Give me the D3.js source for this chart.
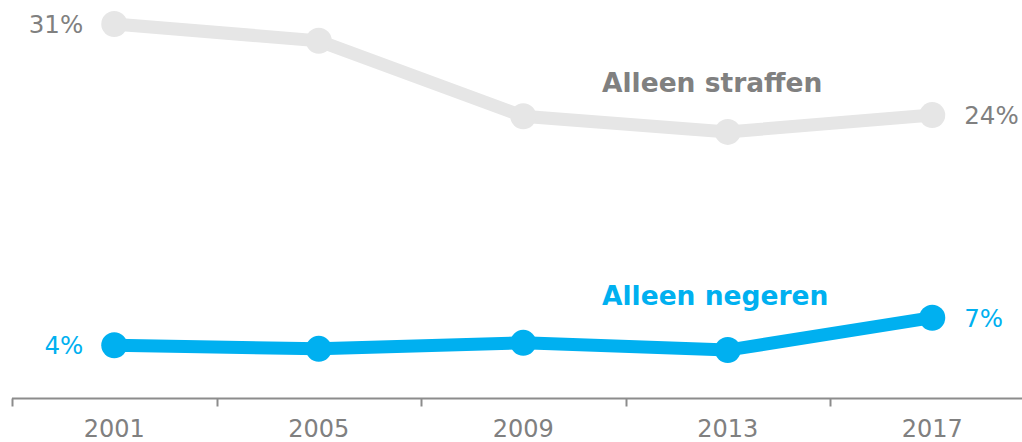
<!DOCTYPE html>
<html>
<head>
<meta charset="utf-8">
<script src="https://cdn.jsdelivr.net/npm/d3@7"></script>
<style>
  body { margin: 0; background: #fff; }
  svg { display: block; font-family: Verdana, "DejaVu Sans", sans-serif; }
</style>
</head>
<body>
<svg id="chart" width="1022" height="442"></svg>
<script>
// Jaren op de x-as.
const years = ['2001', '2005', '2009', '2013', '2017'];

// Percentages per reeks.
const straffen = [31.2, 29.8, 23.5, 22.2, 23.6];
const negeren = [4.4, 4.1, 4.6, 4.0, 6.7];

// Labels bij eerste en laatste punt.
const straffenLabels = ['31%', '24%'];
const negerenLabels = ['4%', '7%'];

const seriesNames = ['Alleen straffen', 'Alleen negeren'];
const colors = ['#e6e6e6', '#00b0f0'];

let svg = d3.select('#chart'),
    width = 1022,
    height = 442;

// Schalen.
let x = d3.scaleBand()
    .domain(years)
    .range([12, 12 + 5 * 204.5]);
let y = d3.scaleLinear()
    .domain([0, 31.2])
    .range([398, 24]);

// x-as.
let xAxis = svg.append('g')
    .attr('transform', 'translate(0,398.5)')
    .call(d3.axisBottom(x).tickSize(0).tickPadding(21));
xAxis.select('.domain').remove();
xAxis.append('line')
    .attr('x1', 12).attr('x2', width)
    .attr('stroke', '#8c8c8c').attr('stroke-width', 2);
xAxis.selectAll('.tickmark')
    .data(years)
    .enter().append('line')
    .attr('x1', d => Math.round(x(d)) + 0.5)
    .attr('x2', d => Math.round(x(d)) + 0.5)
    .attr('y1', 0).attr('y2', 8)
    .attr('stroke', '#8c8c8c').attr('stroke-width', 2);
xAxis.selectAll('.tick text')
    .attr('fill', '#808080')
    .attr('font-size', 24)
    .attr('font-family', 'Verdana, "DejaVu Sans", sans-serif');

let line = d3.line()
    .x((d, i) => x(years[i]) + x.bandwidth() / 2)
    .y(d => y(d));

// Teken een reeks: lijn, punten en labels.
const drawSeries = (values, color, labels, labelColor) => {
    let g = svg.append('g');
    g.append('path')
        .datum(values)
        .attr('fill', 'none')
        .attr('stroke', color)
        .attr('stroke-width', 13)
        .attr('d', line);
    g.selectAll('circle')
        .data(values)
        .enter().append('circle')
        .attr('cx', (d, i) => x(years[i]) + x.bandwidth() / 2)
        .attr('cy', d => y(d))
        .attr('r', 13)
        .attr('fill', color);

    let first = values[0], last = values[values.length - 1];
    g.append('text')
        .attr('x', x(years[0]) + x.bandwidth() / 2 - 31)
        .attr('y', y(first))
        .attr('dy', '0.36em')
        .attr('text-anchor', 'end')
        .attr('font-size', 24.5)
        .attr('fill', labelColor)
        .text(labels[0]);
    g.append('text')
        .attr('x', x(years[4]) + x.bandwidth() / 2 + 32)
        .attr('y', y(last))
        .attr('dy', '0.36em')
        .attr('font-size', 24.5)
        .attr('fill', labelColor)
        .text(labels[1]);
};

drawSeries(straffen, colors[0], straffenLabels, '#808080');
drawSeries(negeren, colors[1], negerenLabels, '#00b0f0');

// Reeksnamen.
svg.append('text')
    .attr('x', 602).attr('y', 92)
    .attr('font-size', 26.5).attr('font-weight', 'bold')
    .attr('fill', '#808080')
    .text(seriesNames[0]);
svg.append('text')
    .attr('x', 602).attr('y', 305)
    .attr('font-size', 26.5).attr('font-weight', 'bold')
    .attr('fill', '#00b0f0')
    .text(seriesNames[1]);
</script>
</body>
</html>
